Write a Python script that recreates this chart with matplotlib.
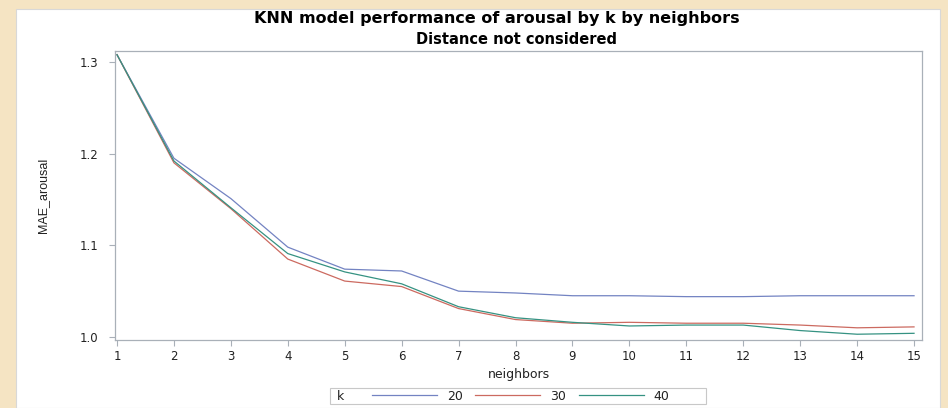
import matplotlib
matplotlib.use('Agg')
import matplotlib.pyplot as plt
from matplotlib.patches import Rectangle
from matplotlib.lines import Line2D

# data
neighbors = [1, 2, 3, 4, 5, 6, 7, 8, 9, 10, 11, 12, 13, 14, 15]
k_values = ['20', '30', '40']
mae_k20 = [1.308, 1.195, 1.151, 1.098, 1.074, 1.072, 1.050, 1.048, 1.045, 1.045, 1.044, 1.044, 1.045, 1.045, 1.045]
mae_k30 = [1.308, 1.190, 1.140, 1.085, 1.061, 1.055, 1.031, 1.019, 1.015, 1.016, 1.015, 1.015, 1.013, 1.010, 1.011]
mae_k40 = [1.308, 1.192, 1.141, 1.091, 1.071, 1.058, 1.033, 1.021, 1.016, 1.012, 1.013, 1.013, 1.007, 1.003, 1.004]
y_ticks = [1.0, 1.1, 1.2, 1.3]

colors = ['#7383C2', '#CC6A60', '#359282']

W, H = 948, 408
fig = plt.figure(figsize=(W / 100, H / 100), dpi=100)
fig.patch.set_facecolor('#f5e4c3')

# white panel
fig.patches.append(Rectangle((16 / W, 0), 924 / W, 399 / H, transform=fig.transFigure,
                             facecolor='white', edgecolor='#d8d8d8', linewidth=0.8, zorder=-5))

ax = fig.add_axes([115 / W, 68 / H, 807 / W, 289 / H])
ax.set_zorder(3)
for series, c in zip([mae_k20, mae_k30, mae_k40], colors):
    ax.plot(neighbors, series, color=c, linewidth=0.9)

ax.set_xlim(0.965, 15.14)
ax.set_ylim(0.9967, 1.312)
ax.set_xticks(neighbors)
ax.set_yticks(y_ticks)
ax.set_yticklabels(['%.1f' % v for v in y_ticks])
for s in ax.spines.values():
    s.set_color('#a9b0b8')
    s.set_linewidth(0.9)
ax.tick_params(axis='both', direction='out', length=4, width=0.8, color='#a9b0b8',
               labelsize=8.5, labelcolor='#222222')
ax.tick_params(axis='x', pad=3)
ax.tick_params(axis='y', pad=8)

ax.set_xlabel('neighbors', fontsize=9, color='#222222', labelpad=4)
ax.set_ylabel('MAE_arousal', fontsize=9, color='#222222', labelpad=22,
              family=['Liberation Sans Narrow', 'Liberation Sans', 'DejaVu Sans'],
              fontstretch='condensed')

fig.text(497 / W, 1 - 18 / H, 'KNN model performance of arousal by k by neighbors',
         ha='center', va='center', fontsize=11.5, fontweight='bold', zorder=4)
fig.text(517 / W, 1 - 39 / H, 'Distance not considered',
         ha='center', va='center', fontsize=10.5, fontweight='bold', zorder=4)

# legend
fig.patches.append(Rectangle((330 / W, 1 - 404 / H), 376 / W, 16 / H, transform=fig.transFigure,
                             facecolor='white', edgecolor='#c8c8c8', linewidth=0.8, zorder=-4))
fig.text(337 / W, 1 - 396 / H, 'k', ha='left', va='center', fontsize=9, color='#222222')
handles = [Line2D([], [], color=c, linewidth=0.9) for c in colors]
leg = fig.legend(handles, k_values, loc='center left', bbox_to_anchor=(372 / W, 1 - 396 / H),
                 ncol=3, frameon=False, fontsize=9, handlelength=5.2, handletextpad=0.8,
                 columnspacing=1.0, borderpad=0.0, borderaxespad=0.0)
for t in leg.get_texts():
    t.set_color('#222222')

fig.savefig('out.png', dpi=100, facecolor=fig.get_facecolor())
